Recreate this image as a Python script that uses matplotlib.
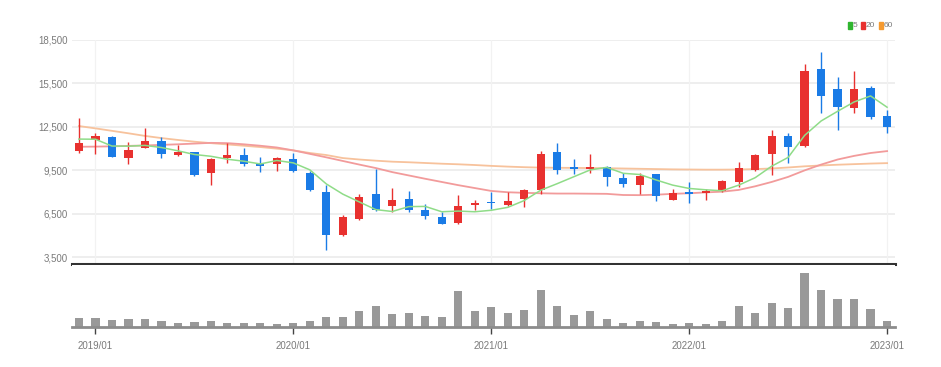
import numpy as np
import matplotlib
matplotlib.use("Agg")
from matplotlib import pyplot as plt

# monthly candles 2018/12 .. 2023/01
months = ["2018/12"] + ["%d/%02d" % (y, m) for y in range(2019, 2023) for m in range(1, 13)] + ["2023/01"]

opens = [10851, 11588, 11818, 10367, 11058, 11542, 10574, 10735, 9330, 10321,
         10574, 9975, 9906, 10252, 9330, 8016, 5021, 6173, 7855, 7026,
         7510, 6795, 6288, 5874, 7095, 7348, 7095, 7510, 8132, 10781,
         9744, 9629, 9744, 8985, 8478, 9238, 7487, 8017, 7971, 8086,
         8708, 9514, 10620, 11864, 11173, 16473, 15113, 13777, 15205, 13270]
highs = [13086, 12095, 11888, 11427, 12394, 11818, 11242, 10782, 10321, 11358,
         11012, 10390, 10436, 10712, 9468, 8477, 6404, 7855, 9629, 8293,
         8086, 7210, 6634, 7786, 7440, 8016, 8016, 8247, 10850, 11357,
         10251, 10620, 9814, 9330, 9330, 9284, 8247, 8708, 8247, 8823,
         10090, 10597, 12279, 12049, 16841, 17647, 15966, 16380, 15320, 13662]
lows = [10713, 10620, 10390, 9929, 11012, 10321, 10482, 9123, 8478, 10022,
        9791, 9399, 9445, 9399, 8086, 3984, 4952, 6104, 6703, 6634,
        6657, 6173, 5782, 5782, 6795, 6864, 7026, 6980, 7901, 9238,
        9238, 9330, 8408, 8362, 7902, 7372, 7441, 7257, 7487, 8017,
        8362, 9468, 9169, 9975, 11127, 13477, 12279, 13431, 13017, 12049]
closes = [11358, 11888, 10436, 10897, 11542, 10620, 10758, 9169, 10275, 10528,
          9929, 9814, 10367, 9445, 8132, 5067, 6288, 7671, 6795, 7487,
          6749, 6358, 5828, 7026, 7256, 7256, 7371, 8178, 10597, 9514,
          9629, 9744, 9054, 8547, 9100, 7740, 7971, 7902, 8086, 8754,
          9676, 10551, 11864, 11127, 16357, 14652, 13892, 15090, 13201, 12464]
volumes = [28, 28, 20, 23, 25, 18, 13, 15, 19, 13,
           13, 13, 10, 13, 18, 32, 32, 50, 63, 40,
           44, 33, 29, 110, 48, 60, 44, 53, 114, 63,
           38, 50, 25, 13, 18, 15, 10, 13, 10, 18,
           63, 44, 73, 57, 164, 114, 85, 85, 54, 19]

ma5 = [11660, 11650, 11180, 11170, 11224, 11077, 10851, 10597, 10473, 10270,
       10132, 9943, 10183, 10017, 9537, 8565, 7860, 7321, 6791, 6662,
       6998, 7012, 6643, 6690, 6643, 6745, 6947, 7417, 8132, 8583,
       9058, 9532, 9708, 9298, 9215, 8837, 8482, 8252, 8160, 8091,
       8478, 8994, 9786, 10394, 11915, 12910, 13578, 14224, 14638, 13860]
ma20 = [11130, 11140, 11160, 11190, 11220, 11260, 11300, 11350, 11400, 11380,
        11300, 11200, 11080, 10880, 10640, 10400, 10150, 9900, 9660, 9380,
        9150, 8920, 8700, 8480, 8280, 8080, 7990, 7950, 7920, 7900,
        7900, 7890, 7880, 7800, 7790, 7820, 7880, 7920, 7980, 8030,
        8150, 8400, 8700, 9050, 9500, 9900, 10250, 10500, 10700, 10830]
ma60 = [12560, 12400, 12230, 12060, 11880, 11730, 11600, 11480, 11380, 11290,
        11200, 11110, 11000, 10880, 10700, 10560, 10350, 10250, 10170, 10100,
        10060, 10010, 9960, 9920, 9870, 9810, 9760, 9720, 9690, 9680,
        9670, 9660, 9650, 9630, 9610, 9590, 9570, 9560, 9550, 9550,
        9560, 9590, 9630, 9700, 9780, 9840, 9890, 9930, 9970, 10000]

price_ticks = [3500, 6500, 9500, 12500, 15500, 18500]
year_labels = ["2019/01", "2020/01", "2021/01", "2022/01", "2023/01"]

UP = "#e8312f"
DOWN = "#1a7be6"
GRID = "#ededed"
TXT = "#7a7a7a"
FONT = ["Liberation Sans", "DejaVu Sans"]

W, H = 941, 367
fig = plt.figure(figsize=(W / 100, H / 100), dpi=100)

def px_axes(x0, y0, x1, y1):
    return fig.add_axes([x0 / W, 1 - y1 / H, (x1 - x0) / W, (y1 - y0) / H])

x = np.arange(len(months))
xlim = (-0.42, 49.48)
year_pos = [months.index(m) for m in year_labels]

# ---- price panel
ax = px_axes(72, 40, 895, 264)
ax.set_xlim(*xlim)
ax.set_ylim(3037, 18500)
for v in price_ticks:
    ax.axhline(v, color=GRID, lw=1.3, zorder=0)
for p in year_pos:
    ax.axvline(p, color="#f2f2f2", lw=0.9, zorder=0)

o = np.array(opens); c = np.array(closes)
cols = [UP if cc >= oo else DOWN for oo, cc in zip(o, c)]
ax.vlines(x, lows, highs, colors=cols, lw=1.0, zorder=2)
body_h = np.maximum(np.abs(c - o), 70)
ax.bar(x, body_h, bottom=np.minimum(o, c), width=0.5, color=cols, zorder=3)

ax.plot(x, ma60, color="#f7c29c", lw=1.3, zorder=1)
ax.plot(x, ma20, color="#f29b9b", lw=1.3, zorder=1)
ax.plot(x, ma5, color="#8fdc88", lw=1.1, zorder=4)

for s in ["top", "right", "left"]:
    ax.spines[s].set_visible(False)
ax.spines["bottom"].set_color("#333333")
ax.spines["bottom"].set_linewidth(2.2)
ax.set_xticks([])
ax.set_yticks(price_ticks)
ax.set_yticklabels(["{:,}".format(v) for v in price_ticks], family=FONT, fontsize=7, color=TXT)
ax.tick_params(axis="y", length=0, pad=3)

# ---- volume panel
axv = px_axes(72, 265, 895, 327)
axv.set_xlim(*xlim)
axv.set_ylim(0, 189)
axv.bar(x, volumes, width=0.5, color="#999999", zorder=2)
for s in ["top", "right", "left"]:
    axv.spines[s].set_visible(False)
axv.spines["bottom"].set_color("#8c8c8c")
axv.spines["bottom"].set_linewidth(2.0)
axv.set_yticks([])
axv.set_xticks(year_pos)
axv.set_xticklabels(year_labels, family=FONT, fontsize=7, color=TXT)
axv.tick_params(axis="x", length=5, width=1.0, color="#444444", pad=5)

# ---- legend
leg = [("5", "#2fb52f", 848), ("20", UP, 861), ("60", "#f59a30", 879)]
for lab, col, px in leg:
    fig.patches.append(plt.Rectangle((px / W, 1 - 28.5 / H), 3.5 / W, 6 / H,
                                     transform=fig.transFigure, color=col))
    fig.text((px + 5) / W, 1 - 25.5 / H, lab, family=FONT, fontsize=6,
             color=TXT, va="center", ha="left")

fig.savefig("out.png", dpi=100, facecolor="white")
